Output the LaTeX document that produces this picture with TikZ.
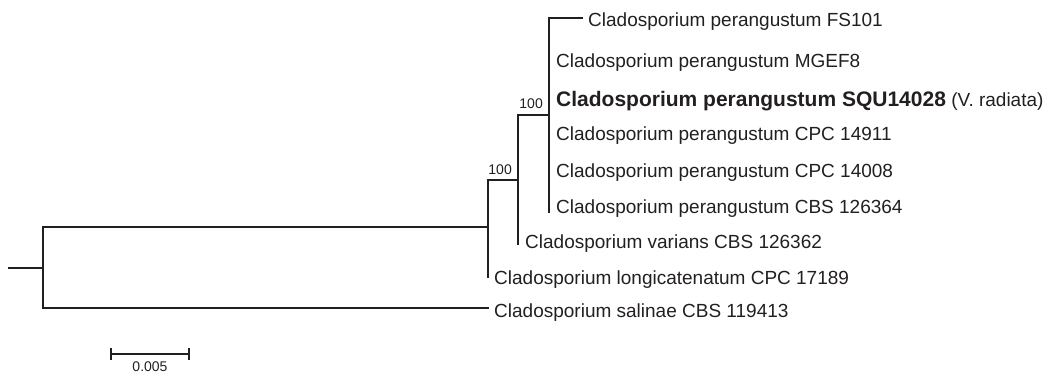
\documentclass[tikz,border=0pt]{standalone}
\usepackage{fontspec}
\setmainfont{Liberation Sans}
\definecolor{ink}{HTML}{231F20}
\begin{document}
\begin{tikzpicture}[x=1pt,y=-1pt,
  branch/.style={draw=ink, line width=1.8pt, line cap=rect},
  leaf/.style={anchor=base west, inner sep=0pt, text=ink, font=\fontsize{19}{22}\selectfont},
  boot/.style={anchor=base east, inner sep=0pt, text=ink, font=\fontsize{14}{16}\selectfont}]
\useasboundingbox (0,0) rectangle (1059,372);
% internal coordinates
\coordinate (stub) at (9,268);
\coordinate (root) at (43,268);
\coordinate (rt) at (43,227);
\coordinate (rb) at (43,308);
\coordinate (n1) at (488,227);
\coordinate (n1t) at (488,180);
\coordinate (n1b) at (488,277);
\coordinate (sal) at (488,308);
\coordinate (n2) at (518,180);
\coordinate (n2t) at (518,115);
\coordinate (n2b) at (518,244);
\coordinate (n3) at (549,115);
\coordinate (n3t) at (549,18);
\coordinate (n3b) at (549,212);
\coordinate (fs) at (582,18);
% branches
\draw[branch] (stub) -- (root);
\draw[branch] (rt) -- (rb);
\draw[branch] (rt) -- (n1);
\draw[branch] (rb) -- (sal);
\draw[branch] (n1t) -- (n1b);
\draw[branch] (n1t) -- (n2);
\draw[branch] (n2t) -- (n2b);
\draw[branch] (n2t) -- (n3);
\draw[branch] (n3t) -- (n3b);
\draw[branch] (n3t) -- (fs);
% bootstrap labels
\node[boot] (b3) at (543,108) {100};
\node[boot] (b2) at (512,174) {100};
% leaves
\node[leaf] (l1) at (588,27) {Cladosporium perangustum FS101};
\node[leaf] (l2) at (556,67.5) {Cladosporium perangustum MGEF8};
\node[leaf] (l3) at (556,106) {{\fontsize{21}{24}\selectfont\bfseries Cladosporium perangustum SQU14028} (V. radiata)};
\node[leaf] (l4) at (556,140.5) {Cladosporium perangustum CPC 14911};
\node[leaf] (l5) at (556,177) {Cladosporium perangustum CPC 14008};
\node[leaf] (l6) at (556,213) {Cladosporium perangustum CBS 126364};
\node[leaf] (l7) at (525,248) {Cladosporium varians CBS 126362};
\node[leaf] (l8) at (494,284) {Cladosporium longicatenatum CPC 17189};
\node[leaf] (l9) at (494,317) {Cladosporium salinae CBS 119413};
% scale bar
\coordinate (sa) at (111,354);
\coordinate (sb) at (189,354);
\draw[draw=ink, line width=1.8pt] (sa) -- (sb);
\draw[draw=ink, line width=1.8pt] ([yshift=-6pt]sa) -- ([yshift=6pt]sa);
\draw[draw=ink, line width=1.8pt] ([yshift=-6pt]sb) -- ([yshift=6pt]sb);
\node[anchor=base, inner sep=0pt, text=ink, font=\fontsize{14}{16}\selectfont] (sl) at (150,371) {0.005};
\end{tikzpicture}
\end{document}
